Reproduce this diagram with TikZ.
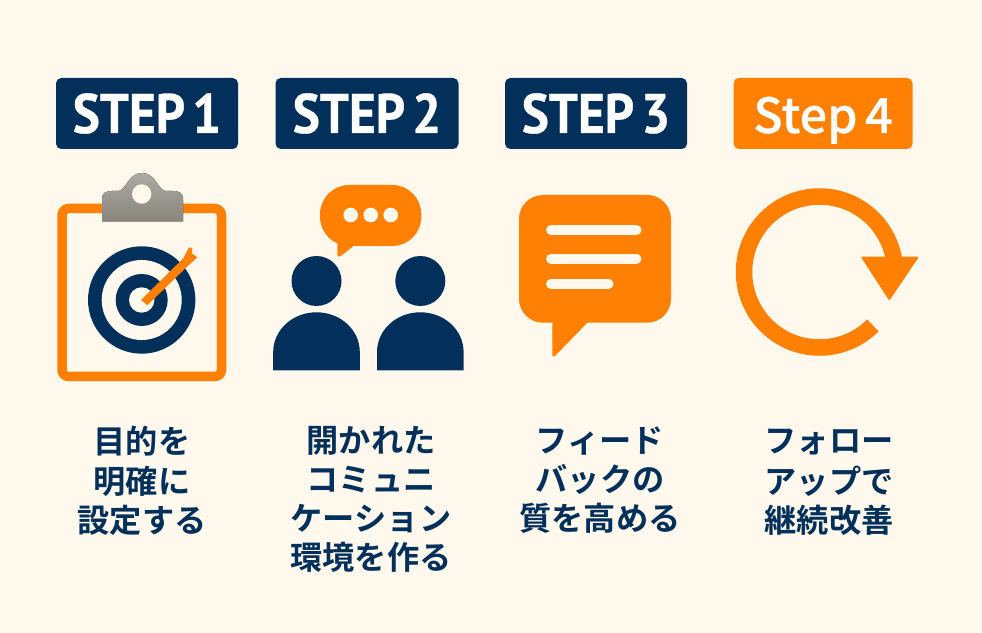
\documentclass[tikz,border=0pt]{standalone}
\usepackage{fontspec}
\setmainfont{Noto Sans CJK JP}[BoldFont={Noto Sans CJK JP Bold}]
\newfontfamily\stepfont{PT Sans Bold}[FakeStretch=0.92, WordSpace=0.55, FakeBold=0.6]
\newfontfamily\lowerfont{Noto Sans CJK JP Medium}[WordSpace=0.7, FakeBold=0.5]
\definecolor{cream}{HTML}{FFF8ED}
\definecolor{navy}{HTML}{03305A}
\definecolor{tangerine}{HTML}{FF8003}
\definecolor{cliptop}{HTML}{ACAAA3}
\definecolor{clipbottom}{HTML}{87857C}
\tikzset{
	stepbadge/.style={fill=navy, rounded corners=4pt, minimum width=#1*0.0265cm, minimum height=71*0.0265cm, inner sep=0pt, text=white, text height=29.4pt, text depth=0pt, font=\stepfont\fontsize{42}{42}\selectfont},
	caption/.style={text=navy, align=center, font=\bfseries\fontsize{24.3}{29.4}\selectfont, anchor=north},
}
\begin{document}
\begin{tikzpicture}[x=0.0265cm, y=-0.0265cm, line join=round]
	\path[use as bounding box, fill=cream] (0,0) rectangle (982,633);
	% badges
	\node[stepbadge=182] (step1) at (147,113.5) {STEP 1};
	\node[stepbadge=183] (step2) at (367,113.5) {STEP 2};
	\node[stepbadge=182] (step3) at (596,113.5) {STEP 3};
	\node[stepbadge=179, fill=tangerine, font=\lowerfont\fontsize{36.5}{36.5}\selectfont] (step4) at (823,113.5) {Step 4};
	% clipboard and target
	\draw[tangerine, line width=9.5*0.0265cm, rounded corners=5pt] (62,208.5) rectangle (221.5,376.5);
	\fill[top color=cliptop, bottom color=clipbottom] (102,221.5) -- (102,199) .. controls (102,193) and (106,191) .. (112,191) -- (118,191) .. controls (126,191) and (128,173) .. (142,173) .. controls (156,173) and (158,191) .. (166,191) -- (173,191) .. controls (179,191) and (183,193) .. (183,199) -- (183,221.5) -- cycle;
	\fill[cream] (141.7,194) circle (9.7);
	\fill[navy] (141.7,300) circle (53.7);
	\fill[cream] (141.7,300) circle (40);
	\fill[navy] (141.7,300) circle (26);
	\fill[cream] (141.7,300) circle (12.7);
	\fill[tangerine] (141,300) -- (183.3,258.3) -- (189,247.3) -- (192.3,248.3) -- (191.7,253.3) -- (197.3,257.3) -- (187,266.7) -- (147.3,305.3) -- cycle;
	% two people
	\fill[tangerine, rounded corners=22pt] (320,185) rectangle (421.3,246);
	\fill[tangerine, rounded corners=1pt] (337.3,240) -- (337.3,256.5) -- (340,256.7) -- (356,244) -- cycle;
	\foreach \x in {350.7,370.7,390.7} \fill[cream] (\x,215) circle (7.3);
	\foreach \x in {316.5,420.3} {
		\fill[navy] (\x,281) circle (25);
		\fill[navy] (\x-43.3,370.3) -- (\x-43.3,352) .. controls (\x-43.3,330) and (\x-24,312.3) .. (\x,312.3) .. controls (\x+24,312.3) and (\x+43.3,330) .. (\x+43.3,352) -- (\x+43.3,370.3) -- cycle;
	}
	% speech bubble
	\fill[tangerine, rounded corners=18pt] (519,195) rectangle (671,322.7);
	\fill[tangerine, rounded corners=1pt] (552.3,318) -- (552.3,356.5) -- (554.3,356.7) -- (590,320) -- cycle;
	\foreach \y/\w in {230/636.5,258.7/636.5,283.7/608.5}
		\draw[cream, line width=10*0.0265cm, line cap=round] (551,\y) -- (\w,\y);
	% cycle arrow
	\draw[tangerine, line width=16.5*0.0265cm] (872.9,325.4) arc[start angle=45, end angle=355, radius=75.5];
	\fill[tangerine, rounded corners=1pt] (860.7,256.7) -- (919,256.7) -- (889.3,300.7) -- cycle;
	% captions
	\node[caption] (text1) at (142,421) {\strut 目的を\\明確に\\設定する};
	\node[caption] (text2) at (371,421) {\strut 開かれた\\コミュニ\\ケーション\\環境を作る};
	\node[caption] (text3) at (600,421) {\strut フィード\\バックの\\質を高める};
	\node[caption] (text4) at (829,421) {\strut フォロー\\アップで\\継続改善};
\end{tikzpicture}
\end{document}
